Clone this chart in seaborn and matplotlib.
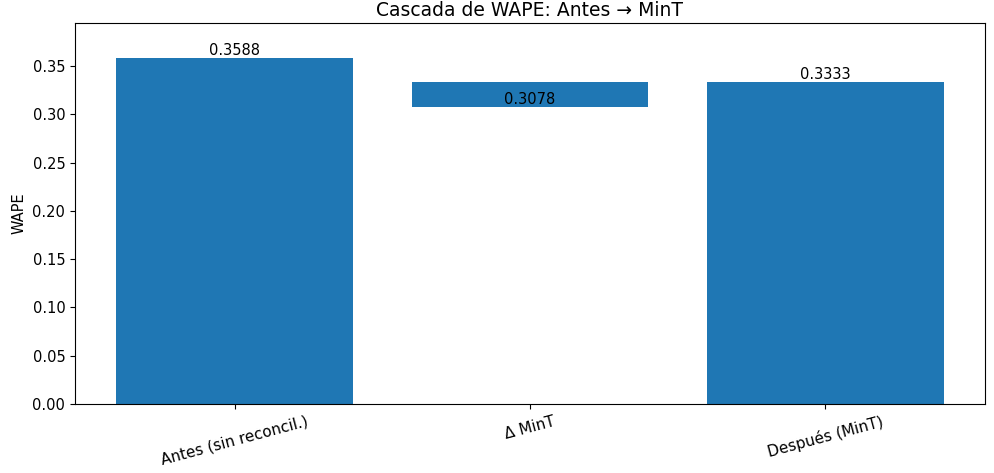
import matplotlib

matplotlib.use("Agg")

import matplotlib.pyplot as plt
import pandas as pd
import seaborn as sns

categories = ["Antes (sin reconcil.)", "Δ MinT", "Después (MinT)"]
wape_before = 0.3588
wape_after = 0.3333
delta = wape_after - wape_before

tops = [wape_before, wape_after, wape_after]
bottoms = [0.0, wape_after, 0.0]
heights = [wape_before, delta, wape_after]

df = pd.DataFrame({"etapa": categories, "wape": tops})

fig, ax = plt.subplots(figsize=(9.94, 4.73), dpi=100)
sns.barplot(data=df, x="etapa", y="wape", color="#1f77b4", saturation=1, width=0.8, ax=ax)

# floating bars for the waterfall
for patch, bottom, height in zip(ax.patches, bottoms, heights):
    patch.set_y(bottom)
    patch.set_height(height)
    label_y = bottom + height
    ax.text(patch.get_x() + patch.get_width() / 2, label_y, f"{label_y:.4f}",
            ha="center", va="bottom", fontsize=10.5)

ax.set_xlim(-0.54, 2.54)
ax.set_ylim(0, wape_before * 1.1)
ax.set_title("Cascada de WAPE: Antes → MinT", fontsize=13.5, pad=5)
ax.set_ylabel("WAPE", fontsize=10.5)
ax.set_xlabel("")
ax.tick_params(axis="y", labelsize=10.5)
ax.tick_params(axis="x", labelsize=11)
plt.setp(ax.get_xticklabels(), rotation=15)

fig.subplots_adjust(left=75 / 994, right=985 / 994, bottom=1 - 404 / 473, top=1 - 23 / 473)
fig.savefig("out.png", dpi=100)
